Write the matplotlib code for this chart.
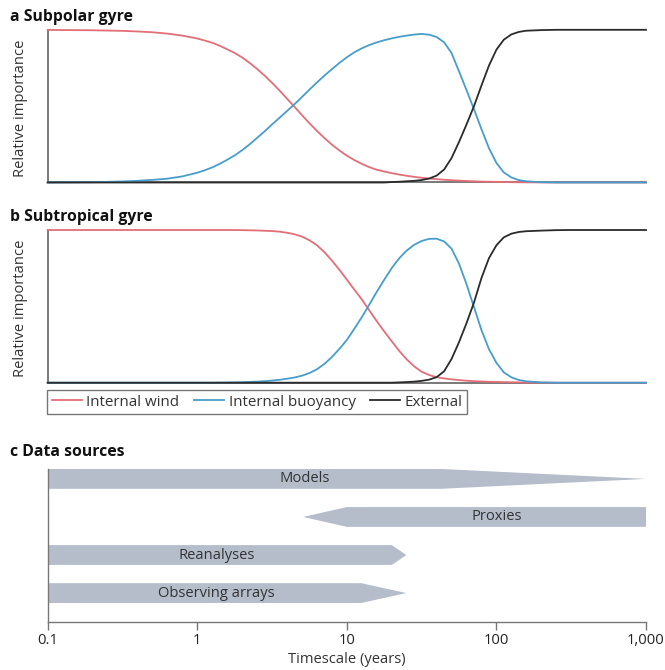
import matplotlib
matplotlib.use("Agg")
import matplotlib.pyplot as plt
from matplotlib.lines import Line2D

plt.rcParams['font.family'] = ['Open Sans', 'DejaVu Sans']

# ---------------- data ----------------
timescale = [0.1, 0.2, 0.316, 0.398, 0.501, 0.631, 0.794,
             1.0, 1.12, 1.26, 1.41, 1.58, 1.78, 2.0, 2.24, 2.51, 2.82, 3.16, 3.55, 3.98,
             4.47, 5.01, 5.62, 6.31, 7.08, 7.94, 8.91, 10,
             11.2, 12.6, 14.1, 15.8, 17.8, 20.0, 22.4, 25.1, 28.2, 31.6, 35.5, 39.8,
             44.7, 50.1, 56.2, 63.1, 70.8, 79.4, 89.1, 100, 112, 126, 141, 158,
             200, 251, 316, 1000]

subpolar_wind = [0.999, 0.997, 0.993, 0.989, 0.984, 0.975, 0.962,
                 0.943, 0.930, 0.915, 0.896, 0.873, 0.848, 0.818, 0.783, 0.744, 0.700,
                 0.653, 0.602, 0.549, 0.495, 0.441, 0.388, 0.338, 0.291, 0.248, 0.210, 0.176,
                 0.147, 0.122, 0.101, 0.084, 0.072, 0.061, 0.052, 0.044, 0.037, 0.031, 0.026,
                 0.022, 0.018, 0.015, 0.012, 0.010, 0.008, 0.006, 0.005, 0.004, 0.003, 0.002,
                 0.0015, 0.001,
                 0.0005, 0.0, 0.0, 0.0]
subpolar_buoyancy = [0.0, 0.002, 0.007, 0.011, 0.017, 0.025, 0.04,
                     0.064, 0.08, 0.099, 0.122, 0.148, 0.178, 0.212, 0.25, 0.292, 0.335,
                     0.38, 0.424, 0.468, 0.513, 0.56, 0.608, 0.655, 0.70, 0.742, 0.783, 0.82,
                     0.852, 0.879, 0.90, 0.917, 0.932, 0.944, 0.954, 0.962, 0.969, 0.973, 0.968,
                     0.953, 0.918, 0.848, 0.728, 0.605, 0.48, 0.35, 0.225, 0.128, 0.066, 0.033,
                     0.016, 0.008,
                     0.002, 0.0, 0.0, 0.0]
subpolar_external = [0, 0, 0, 0, 0, 0, 0,
                     0, 0, 0, 0, 0, 0, 0, 0, 0, 0,
                     0, 0, 0, 0, 0, 0, 0, 0, 0, 0, 0,
                     0, 0, 0, 0, 0, 0.003, 0.005, 0.008, 0.011, 0.016, 0.026,
                     0.045, 0.085, 0.16, 0.265, 0.38, 0.5, 0.635, 0.765, 0.87, 0.935, 0.97,
                     0.986, 0.994,
                     0.998, 1.0, 1.0, 1.0]

subtropical_wind = [1.0, 1.0, 1.0, 1.0, 1.0, 1.0, 1.0,
                    1.0, 1.0, 1.0, 1.0, 1.0, 1.0, 0.999, 0.998, 0.997, 0.995,
                    0.993, 0.989, 0.982, 0.972, 0.957, 0.933, 0.90, 0.855, 0.80, 0.74, 0.675,
                    0.61, 0.545, 0.475, 0.405, 0.335, 0.27, 0.208, 0.153, 0.107, 0.072, 0.05,
                    0.036, 0.028, 0.022, 0.017, 0.013, 0.01, 0.008, 0.006, 0.005, 0.004, 0.003,
                    0.002, 0.001,
                    0.0005, 0.0, 0.0, 0.0]
subtropical_buoyancy = [0, 0, 0, 0, 0, 0, 0,
                        0, 0, 0, 0.0005, 0.001, 0.002, 0.003, 0.005, 0.007, 0.01,
                        0.014, 0.019, 0.026, 0.034, 0.046, 0.063, 0.088, 0.123, 0.168, 0.221, 0.28,
                        0.352, 0.43, 0.51, 0.593, 0.675, 0.752, 0.815, 0.865, 0.903, 0.928, 0.942,
                        0.943, 0.925, 0.878, 0.78, 0.645, 0.495, 0.345, 0.22, 0.13, 0.068, 0.035,
                        0.018, 0.009,
                        0.002, 0.0, 0.0, 0.0]
subtropical_external = [0, 0, 0, 0, 0, 0, 0,
                        0, 0, 0, 0, 0, 0, 0, 0, 0, 0,
                        0, 0, 0, 0, 0, 0, 0, 0, 0, 0, 0,
                        0, 0, 0, 0, 0, 0, 0.002, 0.004, 0.007, 0.012, 0.02,
                        0.036, 0.075, 0.155, 0.265, 0.39, 0.525, 0.685, 0.815, 0.9, 0.952, 0.976,
                        0.987, 0.992,
                        0.996, 0.999, 1.0, 1.0]

series_names = ['Internal wind', 'Internal buoyancy', 'External']

sources = ['Models', 'Proxies', 'Reanalyses', 'Observing arrays']
solid_from = [0.1, 10, 0.1, 0.1]
solid_to = [43, 1000, 20, 12.5]
tip_at = [1000, 5.1, 25, 25]
label_at = [5.2, 100, 1.35, 1.35]
row = [3, 2, 1, 0]

tick_values = [0.1, 1, 10, 100, 1000]
tick_labels = ['0.1', '1', '10', '100', '1,000']

# ---------------- style ----------------
colors = ['#e36e78', '#479dcc', '#2b2b2b']
spine_col = '#555555'
bar_col = '#b5bdcb'
FS = 10.6
LFS = 10.9
TFS = 11.3

W, H = 665, 670
fig = plt.figure(figsize=(W / 100, H / 100), dpi=100)

def fx(px):
    return px / W

def fy(py):
    return 1 - py / H

left, right = 47.7, 646.0

def make_line_ax(top, bottom):
    ax = fig.add_axes([fx(left), fy(bottom), fx(right - left), (bottom - top) / H])
    ax.set_xscale('log')
    ax.set_xlim(0.1, 1000)
    ax.set_ylim(0, 1)
    for s in ['top', 'right']:
        ax.spines[s].set_visible(False)
    for s in ['left', 'bottom']:
        ax.spines[s].set_color(spine_col)
        ax.spines[s].set_linewidth(1.1)
    ax.set_xticks([])
    ax.set_yticks([])
    ax.minorticks_off()
    return ax

ax_a = make_line_ax(29.8, 182.5)
ax_b = make_line_ax(230.0, 382.7)

for ax, ys in [(ax_a, [subpolar_wind, subpolar_buoyancy, subpolar_external]),
               (ax_b, [subtropical_wind, subtropical_buoyancy, subtropical_external])]:
    for y, c, n in zip(ys, colors, series_names):
        ax.plot(timescale, y, color=c, lw=1.3, clip_on=False, label=n, zorder=3,
                solid_joinstyle='round')
    ax.set_xlim(0.1, 1000)

# titles & labels
fig.text(fx(10), fy(17), 'a Subpolar gyre', fontsize=TFS, fontweight='bold',
         ha='left', va='center', color='#111111')
fig.text(fx(10), fy(217), 'b Subtropical gyre', fontsize=TFS, fontweight='bold',
         ha='left', va='center', color='#111111')
fig.text(fx(10), fy(452), 'c Data sources', fontsize=TFS, fontweight='bold',
         ha='left', va='center', color='#111111')
fig.text(fx(21), fy(108), 'Relative importance', rotation=90, fontsize=FS,
         ha='center', va='center', color='#333333')
fig.text(fx(21), fy(308), 'Relative importance', rotation=90, fontsize=FS,
         ha='center', va='center', color='#333333')

# legend
handles = [Line2D([0], [0], color=c, lw=1.3) for c in colors]
leg = fig.legend(handles, series_names, loc='upper left',
                 bbox_to_anchor=(fx(47), fy(390)), ncol=3, fontsize=LFS,
                 frameon=True, fancybox=False, borderaxespad=0,
                 handlelength=2.0, handletextpad=0.3, columnspacing=0.95,
                 borderpad=0.3)
leg.get_frame().set_edgecolor(spine_col)
leg.get_frame().set_linewidth(1.0)
for t in leg.get_texts():
    t.set_color('#333333')

# panel c
ax_c = fig.add_axes([fx(left), fy(622), fx(right - left), (622 - 469) / H])
ax_c.set_xscale('log')
h = 0.26
for name, s0, s1, tp, lx, r in zip(sources, solid_from, solid_to, tip_at, label_at, row):
    if tp > s1:
        xs = [s0, s1, tp, s1, s0]
        ys = [r - h, r - h, r, r + h, r + h]
    else:
        xs = [tp, s0, s1, s1, s0]
        ys = [r, r - h, r - h, r + h, r + h]
    ax_c.fill(xs, ys, color=bar_col, lw=0, zorder=2)
    ax_c.text(lx, r, name, ha='center', va='center', fontsize=FS, color='#333333', zorder=3)
ax_c.set_xlim(0.1, 1000)
ax_c.set_ylim(-0.76, 3.26)
for s in ['top', 'right']:
    ax_c.spines[s].set_visible(False)
for s in ['left', 'bottom']:
    ax_c.spines[s].set_color('#777777')
    ax_c.spines[s].set_linewidth(1.0)
ax_c.set_yticks([])
ax_c.set_xticks(tick_values)
ax_c.set_xticklabels(tick_labels)
ax_c.minorticks_off()
ax_c.tick_params(axis='x', direction='out', length=6, width=1.0, color='#777777',
                 labelsize=FS, labelcolor='#222222', pad=2)
ax_c.set_xlabel('Timescale (years)', fontsize=FS, color='#333333', labelpad=3)

fig.savefig('out.png', dpi=100)
